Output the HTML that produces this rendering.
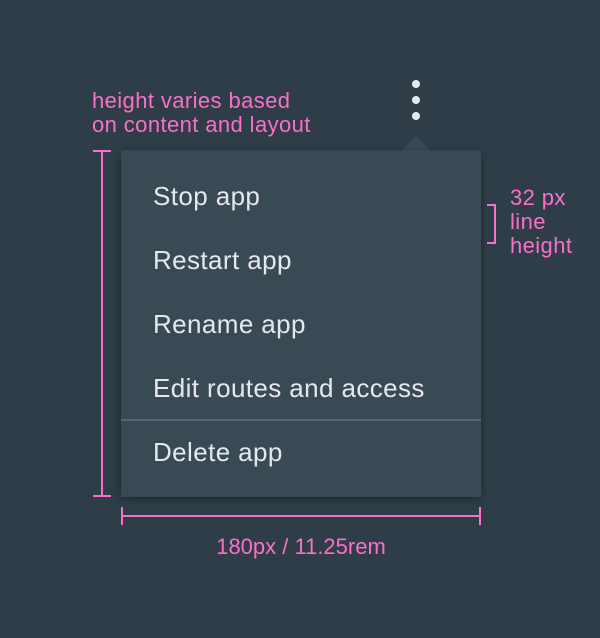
<!DOCTYPE html>
<html><head><style>
body{margin:0;width:600px;height:638px;background:#2e3d48;position:relative;overflow:hidden;font-family:"Liberation Sans",sans-serif}
.a{position:absolute;color:#fb6fcb;font-size:22px;line-height:24px;letter-spacing:0.4px}
.menu{position:absolute;left:121px;top:150px;width:360px;height:347px;background:#3a4a55;box-shadow:0 2px 8px rgba(0,0,0,.35)}
.it{position:absolute;left:32px;color:#e4e8eb;font-size:26px;line-height:32px;letter-spacing:0.4px}
.dot{position:absolute;width:8px;height:8px;border-radius:50%;background:#e4e8eb;left:412px}
.p{position:absolute;background:#fb6fcb}
</style></head><body>
<div class="a" style="left:92px;top:89px">height varies based<br>on content and layout</div>
<div class="dot" style="top:80px"></div><div class="dot" style="top:96px"></div><div class="dot" style="top:112px"></div>
<div style="position:absolute;left:402px;top:136px;width:0;height:0;border-left:14px solid transparent;border-right:14px solid transparent;border-bottom:14px solid #3a4a55"></div>
<div class="menu">
<div class="it" style="top:30px">Stop app</div>
<div class="it" style="top:94px">Restart app</div>
<div class="it" style="top:158px">Rename app</div>
<div class="it" style="top:222px">Edit routes and access</div>
<div style="position:absolute;left:0;top:269px;width:360px;height:2px;background:#56656f"></div>
<div class="it" style="top:286px">Delete app</div>
</div>
<div class="p" style="left:101px;top:150px;width:2px;height:347px"></div>
<div class="p" style="left:93px;top:150px;width:18px;height:2px"></div>
<div class="p" style="left:93px;top:495px;width:18px;height:2px"></div>
<div class="p" style="left:121px;top:515px;width:360px;height:2px"></div>
<div class="p" style="left:121px;top:507px;width:2px;height:18px"></div>
<div class="p" style="left:479px;top:507px;width:2px;height:18px"></div>
<div class="a" style="left:121px;width:360px;text-align:center;top:535px;letter-spacing:0">180px / 11.25rem</div>
<div class="p" style="left:494px;top:204px;width:2px;height:40px"></div>
<div class="p" style="left:487px;top:204px;width:9px;height:2px"></div>
<div class="p" style="left:487px;top:242px;width:9px;height:2px"></div>
<div class="a" style="left:510px;top:186px">32 px<br>line<br>height</div>
</body></html>
